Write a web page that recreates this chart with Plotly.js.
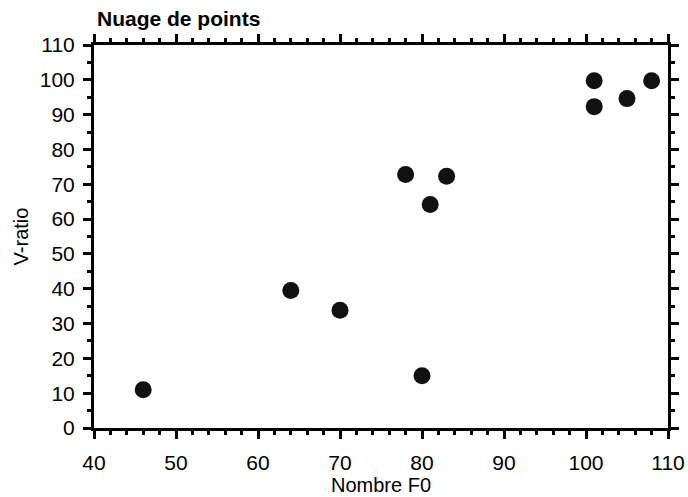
<!DOCTYPE html>
<html>
<head>
<meta charset="utf-8">
<script src="https://cdn.plot.ly/plotly-3.0.1.min.js"></script>
<style>html,body{margin:0;padding:0;background:#fff;}#chart{width:688px;height:497px;}</style>
</head>
<body>
<div id="chart"></div>
<script>
const nombreF0 = [46, 64, 70, 78, 80, 81, 83, 101, 101, 105, 108];
const vRatio   = [11, 39.5, 33.8, 72.8, 15, 64.2, 72.3, 99.7, 92.3, 94.6, 99.7];
const xTicks = [40, 50, 60, 70, 80, 90, 100, 110];
const yTicks = [0, 10, 20, 30, 40, 50, 60, 70, 80, 90, 100, 110];

const font = {family: 'Liberation Sans, Arial, sans-serif', color: '#000'};

Plotly.newPlot('chart', [{
  x: nombreF0, y: vRatio, type: 'scatter', mode: 'markers',
  marker: {size: 17, color: '#111111', line: {width: 0}},
  hoverinfo: 'x+y'
}], {
  width: 688, height: 497,
  margin: {l: 94, r: 20, t: 45, b: 69, pad: 0},
  paper_bgcolor: '#fff', plot_bgcolor: '#fff',
  showlegend: false,
  font: Object.assign({size: 21}, font),
  title: {text: '<b>Nuage de points</b>', x: 0, xref: 'paper', xanchor: 'left', y: 1, yref: 'container', yanchor: 'top', pad: {t: 11, l: 3},
          font: Object.assign({size: 21}, font)},
  xaxis: {
    range: [40, 110], tickvals: xTicks, ticktext: xTicks.map(String),
    showgrid: false, zeroline: false, showline: true, linecolor: '#000', linewidth: 3,
    mirror: 'ticks', ticks: 'outside', ticklen: 8, tickwidth: 3, tickcolor: '#000',
    ticklabelstandoff: 6,
    minor: {dtick: 2, tick0: 40, ticks: 'outside', ticklen: 4, tickwidth: 3, tickcolor: '#000', showgrid: false},
    tickfont: Object.assign({size: 21}, font),
    title: {text: 'Nombre F0', standoff: 0, font: Object.assign({size: 20}, font)}
  },
  yaxis: {
    range: [0, 110], tickvals: yTicks, ticktext: yTicks.map(String),
    showgrid: false, zeroline: false, showline: true, linecolor: '#000', linewidth: 3,
    mirror: 'ticks', ticks: 'outside', ticklen: 8, tickwidth: 3, tickcolor: '#000',
    ticklabelstandoff: 4,
    minor: {dtick: 5, tick0: 0, ticks: 'outside', ticklen: 4, tickwidth: 3, tickcolor: '#000', showgrid: false},
    tickfont: Object.assign({size: 21}, font),
    title: {text: 'V-ratio', standoff: 6, font: Object.assign({size: 20}, font)}
  }
}, {displayModeBar: false, staticPlot: true});
</script>
</body>
</html>
